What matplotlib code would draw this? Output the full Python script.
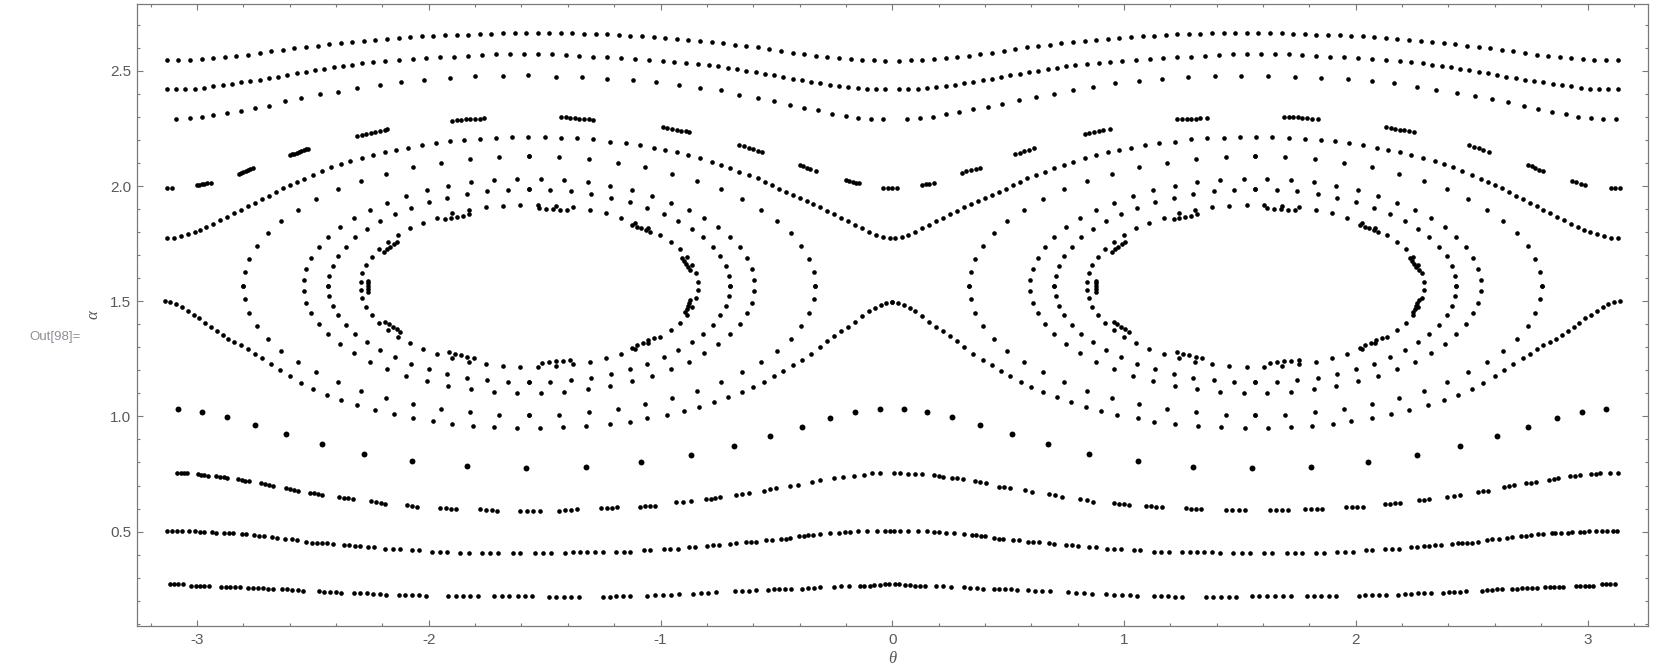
import matplotlib
matplotlib.use('Agg')
import matplotlib.pyplot as plt
from matplotlib.ticker import FixedLocator, FixedFormatter, MultipleLocator
import numpy as np

plt.rcParams['font.family'] = ['Liberation Sans', 'DejaVu Sans']
plt.rcParams['axes.unicode_minus'] = False

# ---- rotational orbits (theta < 0 half, theta > 0 half share alpha) ----
A_THETA_L = [-3.13,-3.08,-3.03,-2.98,-2.93,-2.88,-2.83,-2.78,-2.73,-2.68,-2.63,-2.58,-2.53,-2.48,-2.43,-2.38,-2.33,-2.28,-2.23,-2.18,-2.13,-2.08,-2.03,-1.98,-1.93,-1.88,-1.83,-1.78,-1.73,-1.68,-1.63,-1.58,-1.53,-1.48,-1.43,-1.38,-1.33,-1.28,-1.23,-1.18,-1.13,-1.08,-1.03,-0.98,-0.93,-0.88,-0.83,-0.78,-0.73,-0.68,-0.63,-0.58,-0.53,-0.48,-0.43,-0.38,-0.33,-0.28,-0.23,-0.18,-0.13,-0.08,-0.03]
A_THETA_R = [3.13,3.08,3.03,2.98,2.93,2.88,2.83,2.78,2.73,2.68,2.63,2.58,2.53,2.48,2.43,2.38,2.33,2.28,2.23,2.18,2.13,2.08,2.03,1.98,1.93,1.88,1.83,1.78,1.73,1.68,1.63,1.58,1.53,1.48,1.43,1.38,1.33,1.28,1.23,1.18,1.13,1.08,1.03,0.98,0.93,0.88,0.83,0.78,0.73,0.68,0.63,0.58,0.53,0.48,0.43,0.38,0.33,0.28,0.23,0.18,0.13,0.08,0.03]
A_ALPHA = [2.546,2.547,2.549,2.551,2.554,2.558,2.563,2.570,2.577,2.584,2.591,2.597,2.603,2.609,2.616,2.622,2.626,2.630,2.634,2.638,2.642,2.647,2.650,2.652,2.654,2.656,2.657,2.659,2.661,2.663,2.663,2.663,2.663,2.663,2.663,2.663,2.661,2.660,2.658,2.655,2.652,2.649,2.646,2.641,2.637,2.633,2.629,2.625,2.619,2.613,2.608,2.602,2.593,2.585,2.578,2.571,2.565,2.560,2.556,2.552,2.549,2.546,2.544]

B_THETA_L = [-3.13,-3.09,-3.05,-3.01,-2.97,-2.93,-2.89,-2.85,-2.81,-2.77,
             -2.73,-2.69,-2.65,-2.61,-2.57,-2.53,-2.49,-2.45,-2.41,-2.37,
             -2.33,-2.29,-2.24,-2.19,-2.13,-2.07,-2.01,-1.95,-1.89,-1.83,
             -1.77,-1.71,-1.65,-1.59,-1.53,-1.47,-1.41,-1.35,-1.29,-1.23,
             -1.17,-1.11,-1.05,-0.99,-0.94,-0.89,-0.84,-0.79,-0.75,-0.71,
             -0.67,-0.63,-0.59,-0.55,-0.51,-0.47,-0.43,-0.39,-0.35,-0.31,
             -0.27,-0.23,-0.19,-0.15,-0.11,-0.07,-0.03]
B_THETA_R = [3.13,3.09,3.05,3.01,2.97,2.93,2.89,2.85,2.81,2.77,
             2.73,2.69,2.65,2.61,2.57,2.53,2.49,2.45,2.41,2.37,
             2.33,2.29,2.24,2.19,2.13,2.07,2.01,1.95,1.89,1.83,
             1.77,1.71,1.65,1.59,1.53,1.47,1.41,1.35,1.29,1.23,
             1.17,1.11,1.05,0.99,0.94,0.89,0.84,0.79,0.75,0.71,
             0.67,0.63,0.59,0.55,0.51,0.47,0.43,0.39,0.35,0.31,
             0.27,0.23,0.19,0.15,0.11,0.07,0.03]
B_ALPHA = [2.420,2.420,2.421,2.423,2.427,2.432,2.438,2.444,2.450,2.456,
           2.462,2.468,2.475,2.482,2.489,2.496,2.502,2.509,2.515,2.521,
           2.527,2.533,2.538,2.544,2.549,2.553,2.556,2.559,2.562,2.565,
           2.569,2.571,2.573,2.573,2.573,2.571,2.568,2.565,2.562,2.559,
           2.556,2.552,2.547,2.542,2.537,2.533,2.529,2.524,2.519,2.512,
           2.507,2.500,2.493,2.487,2.480,2.473,2.466,2.459,2.452,2.445,
           2.439,2.433,2.428,2.424,2.421,2.420,2.420]

C_THETA_L = [-3.09,-3.03,-2.98,-2.93,-2.87,-2.81,-2.75,-2.69,-2.62,-2.55,
             -2.47,-2.39,-2.31,-2.21,-2.12,-2.02,-1.91,-1.80,-1.68,-1.57,
             -1.45,-1.34,-1.23,-1.12,-1.02,-0.92,-0.83,-0.74,-0.66,-0.58,
             -0.51,-0.44,-0.38,-0.32,-0.26,-0.20,-0.15,-0.09,-0.04]
C_ALPHA_L = [2.289,2.294,2.298,2.307,2.316,2.324,2.337,2.349,2.368,2.381,
             2.398,2.409,2.424,2.437,2.450,2.459,2.467,2.476,2.476,2.480,
             2.475,2.475,2.466,2.461,2.450,2.440,2.427,2.415,2.396,2.383,
             2.368,2.353,2.340,2.329,2.314,2.305,2.297,2.292,2.289]
C_THETA_R = [0.065,0.121,0.175,0.231,0.287,0.349,0.411,0.475,0.545,0.620,
             0.697,0.781,0.868,0.962,1.063,1.166,1.276,1.392,1.506,1.621,
             1.737,1.851,1.965,2.068,2.166,2.263,2.348,2.435,2.513,2.590,
             2.658,2.724,2.786,2.848,2.906,2.960,3.014,3.068,3.122]
C_ALPHA_R = [2.289,2.294,2.301,2.311,2.320,2.333,2.344,2.357,2.373,2.388,
             2.401,2.418,2.431,2.446,2.456,2.463,2.472,2.476,2.479,2.479,
             2.474,2.470,2.466,2.457,2.446,2.431,2.418,2.405,2.391,2.376,
             2.363,2.346,2.333,2.320,2.311,2.301,2.294,2.289,2.289]

# resonant chain just above the separatrix (short dashes)
D_DOTS = [(-3.13,1.990),(-3.11,1.990),
          (-3.00,2.004),(-2.99,2.006),(-2.98,2.008),(-2.97,2.010),(-2.955,2.012),(-2.94,2.014),
          (-2.82,2.052),(-2.81,2.057),(-2.80,2.062),(-2.79,2.066),(-2.78,2.070),(-2.77,2.074),(-2.76,2.077),
          (-2.60,2.133),(-2.59,2.137),(-2.58,2.141),(-2.57,2.145),(-2.56,2.149),(-2.55,2.153),(-2.54,2.156),(-2.53,2.159),(-2.52,2.161),
          (-2.31,2.218),(-2.29,2.222),(-2.27,2.226),(-2.25,2.231),(-2.23,2.236),(-2.21,2.240),(-2.19,2.244),(-2.18,2.247),
          (-1.90,2.283),(-1.88,2.285),(-1.86,2.287),(-1.84,2.289),(-1.82,2.290),(-1.80,2.291),(-1.78,2.293),(-1.76,2.294),
          (-1.43,2.298),(-1.41,2.298),(-1.39,2.297),(-1.37,2.295),(-1.35,2.293),(-1.33,2.291),(-1.31,2.289),(-1.29,2.286),
          (-0.99,2.256),(-0.97,2.252),(-0.95,2.248),(-0.93,2.244),(-0.91,2.240),(-0.89,2.237),(-0.875,2.234),
          (-0.66,2.178),(-0.64,2.172),(-0.62,2.166),(-0.60,2.160),(-0.58,2.154),(-0.56,2.149),
          (-0.40,2.091),(-0.385,2.085),(-0.37,2.079),(-0.355,2.073),(-0.33,2.066),
          (-0.20,2.026),(-0.185,2.022),(-0.17,2.018),(-0.155,2.014),(-0.145,2.012),
          (-0.04,1.990),(-0.02,1.990),(0.00,1.990),(0.02,1.990),
          (0.13,2.004),(0.145,2.007),(0.16,2.010),(0.18,2.014),
          (0.30,2.058),(0.32,2.063),(0.34,2.068),(0.36,2.073),(0.38,2.077),
          (0.53,2.137),(0.55,2.144),(0.57,2.150),(0.59,2.156),(0.61,2.164),
          (0.83,2.224),(0.85,2.229),(0.87,2.233),(0.89,2.237),(0.91,2.241),(0.94,2.247),
          (1.23,2.289),(1.25,2.290),(1.27,2.291),(1.29,2.292),(1.31,2.293),(1.33,2.294),(1.36,2.296),
          (1.69,2.301),(1.71,2.301),(1.73,2.300),(1.75,2.299),(1.77,2.297),(1.79,2.295),(1.81,2.293),(1.835,2.291),
          (2.13,2.257),(2.15,2.253),(2.17,2.249),(2.19,2.245),(2.21,2.242),(2.23,2.238),(2.25,2.234),
          (2.49,2.178),(2.51,2.171),(2.53,2.164),(2.55,2.157),(2.575,2.147),
          (2.745,2.091),(2.76,2.085),(2.775,2.078),(2.79,2.071),(2.81,2.065),
          (2.935,2.022),(2.95,2.017),(2.97,2.010),(2.99,2.004),
          (3.10,1.990),(3.12,1.990),(3.14,1.990)]

# orbits hugging the separatrix, above and below
E_UP_THETA_L = [-3.13,-3.10,-3.07,-3.04,-3.01,-2.985,-2.96,-2.93,-2.90,-2.87,-2.84,-2.81,-2.78,-2.75,-2.72,-2.69,-2.66,-2.63,-2.60,-2.57,-2.54,-2.50,-2.46,-2.42,-2.38,-2.34,-2.29,-2.24,-2.19,-2.14,-2.09,-2.03,-1.97,-1.91,-1.85,-1.78,-1.71,-1.64,-1.57,-1.50,-1.43,-1.36,-1.29,-1.22,-1.15,-1.09,-1.03,-0.98,-0.93,-0.88,-0.83,-0.78,-0.74,-0.70,-0.66,-0.62,-0.58,-0.55,-0.52,-0.49,-0.46,-0.43,-0.40,-0.37,-0.34,-0.31,-0.28,-0.25,-0.22,-0.19,-0.16,-0.13,-0.10,-0.07,-0.04,-0.01]
E_UP_THETA_R = [3.13,3.10,3.07,3.04,3.01,2.985,2.96,2.93,2.90,2.87,2.84,2.81,2.78,2.75,2.72,2.69,2.66,2.63,2.60,2.57,2.54,2.50,2.46,2.42,2.38,2.34,2.29,2.24,2.19,2.14,2.09,2.03,1.97,1.91,1.85,1.78,1.71,1.64,1.57,1.50,1.43,1.36,1.29,1.22,1.15,1.09,1.03,0.98,0.93,0.88,0.83,0.78,0.74,0.70,0.66,0.62,0.58,0.55,0.52,0.49,0.46,0.43,0.40,0.37,0.34,0.31,0.28,0.25,0.22,0.19,0.16,0.13,0.10,0.07,0.04,0.01]
E_UP_ALPHA = [1.774,1.776,1.782,1.790,1.799,1.809,1.820,1.834,1.851,1.866,1.882,1.897,1.913,1.928,1.943,1.958,1.975,1.990,2.003,2.016,2.029,2.047,2.064,2.081,2.095,2.107,2.121,2.134,2.146,2.157,2.166,2.177,2.187,2.195,2.201,2.205,2.209,2.211,2.211,2.211,2.210,2.207,2.203,2.193,2.185,2.176,2.166,2.156,2.146,2.134,2.120,2.106,2.093,2.079,2.062,2.047,2.033,2.018,2.003,1.989,1.975,1.961,1.949,1.935,1.922,1.908,1.893,1.877,1.862,1.846,1.831,1.816,1.802,1.789,1.779,1.774]

E_LOW_THETA_L = [-3.14,-3.115,-3.09,-3.065,-3.04,-3.015,-2.99,-2.965,-2.94,-2.915,-2.89,-2.865,-2.84,-2.81,-2.78,-2.75,-2.72,-2.68,-2.64,-2.60,-2.55,-2.50,-2.44,-2.38,-2.31,-2.23,-2.15,-2.07,-1.98,-1.90,-1.81,-1.72,-1.62,-1.52,-1.42,-1.32,-1.22,-1.13,-1.06,-0.97,-0.90,-0.835,-0.77,-0.71,-0.65,-0.60,-0.555,-0.51,-0.47,-0.43,-0.39,-0.35,-0.31,-0.28,-0.25,-0.22,-0.19,-0.16,-0.13,-0.10,-0.075,-0.05,-0.025,0.0]
E_LOW_THETA_R = [3.14,3.115,3.09,3.065,3.04,3.015,2.99,2.965,2.94,2.915,2.89,2.865,2.84,2.81,2.78,2.75,2.72,2.68,2.64,2.60,2.55,2.50,2.44,2.38,2.31,2.23,2.15,2.07,1.98,1.90,1.81,1.72,1.62,1.52,1.42,1.32,1.22,1.13,1.06,0.97,0.90,0.835,0.77,0.71,0.65,0.60,0.555,0.51,0.47,0.43,0.39,0.35,0.31,0.28,0.25,0.22,0.19,0.16,0.13,0.10,0.075,0.05,0.025,0.0]
E_LOW_ALPHA = [1.499,1.496,1.486,1.473,1.458,1.442,1.425,1.406,1.389,1.371,1.354,1.338,1.323,1.309,1.293,1.271,1.252,1.229,1.200,1.175,1.146,1.120,1.092,1.072,1.050,1.028,1.010,0.993,0.980,0.967,0.960,0.953,0.950,0.948,0.952,0.958,0.966,0.977,0.992,1.006,1.023,1.042,1.064,1.085,1.107,1.128,1.151,1.175,1.199,1.222,1.246,1.273,1.303,1.326,1.348,1.370,1.390,1.411,1.436,1.457,1.472,1.484,1.494,1.498]

# ---- island ovals: outer / inner flank x-positions, upper / lower alpha ----
O1_X_OUT = [-2.802,-2.795,-2.775,-2.742,-2.695,-2.637,-2.566,-2.485,-2.393,-2.293,-2.185,-2.069,-1.949,-1.824,-1.696,-1.567]
O1_X_IN = [-0.332,-0.339,-0.359,-0.392,-0.439,-0.497,-0.568,-0.649,-0.741,-0.841,-0.949,-1.065,-1.185,-1.310,-1.438,-1.567]
O1_XR_OUT = [2.802,2.795,2.775,2.742,2.695,2.637,2.566,2.485,2.393,2.293,2.185,2.069,1.949,1.824,1.696,1.567]
O1_XR_IN = [0.332,0.339,0.359,0.392,0.439,0.497,0.568,0.649,0.741,0.841,0.949,1.065,1.185,1.310,1.438,1.567]
O1_UP = [1.567,1.626,1.684,1.741,1.796,1.848,1.898,1.943,1.985,2.022,2.054,2.081,2.102,2.117,2.126,2.130]
O1_LOW = [1.567,1.508,1.450,1.393,1.338,1.286,1.236,1.191,1.149,1.112,1.080,1.053,1.032,1.017,1.008,1.005]

O2_X_OUT = [-2.539,-2.528,-2.507,-2.475,-2.434,-2.383,-2.323,-2.255,-2.179,-2.097,-2.009,-1.916,-1.819,-1.719,-1.618]
O2_X_IN = [-0.595,-0.606,-0.627,-0.659,-0.700,-0.751,-0.811,-0.879,-0.955,-1.037,-1.125,-1.218,-1.315,-1.415,-1.516]
O2_XR_OUT = [2.539,2.528,2.507,2.475,2.434,2.383,2.323,2.255,2.179,2.097,2.009,1.916,1.819,1.719,1.618]
O2_XR_IN = [0.595,0.606,0.627,0.659,0.700,0.751,0.811,0.879,0.955,1.037,1.125,1.218,1.315,1.415,1.516]
O2_UP = [1.591,1.640,1.687,1.734,1.778,1.820,1.860,1.896,1.928,1.957,1.981,2.001,2.016,2.026,2.031]
O2_LOW = [1.543,1.494,1.447,1.400,1.356,1.314,1.274,1.238,1.206,1.177,1.153,1.133,1.118,1.108,1.103]

O3_X_OUT = [-2.434,-2.429,-2.415,-2.392,-2.359,-2.318,-2.268,-2.211,-2.147,-2.077,-2.001,-1.920,-1.835,-1.747,-1.658,-1.567]
O3_X_IN = [-0.700,-0.705,-0.719,-0.742,-0.775,-0.816,-0.866,-0.923,-0.987,-1.057,-1.133,-1.214,-1.299,-1.387,-1.476,-1.567]
O3_XR_OUT = [2.434,2.429,2.415,2.392,2.359,2.318,2.268,2.211,2.147,2.077,2.001,1.920,1.835,1.747,1.658,1.567]
O3_XR_IN = [0.700,0.705,0.719,0.742,0.775,0.816,0.866,0.923,0.987,1.057,1.133,1.214,1.299,1.387,1.476,1.567]
O3_UP = [1.567,1.611,1.654,1.696,1.737,1.777,1.813,1.847,1.878,1.906,1.930,1.950,1.966,1.977,1.984,1.986]
O3_LOW = [1.567,1.523,1.480,1.438,1.397,1.357,1.321,1.287,1.256,1.228,1.204,1.184,1.168,1.157,1.150,1.148]

O4_X_OUT = [-2.294,-2.286,-2.270,-2.247,-2.216,-2.178,-2.133,-2.082,-2.025,-1.963,-1.898,-1.828,-1.755,-1.681,-1.605]
O4_X_IN = [-0.840,-0.848,-0.864,-0.887,-0.918,-0.956,-1.001,-1.052,-1.109,-1.171,-1.236,-1.306,-1.379,-1.453,-1.529]
O4_XR_OUT = [2.294,2.286,2.270,2.247,2.216,2.178,2.133,2.082,2.025,1.963,1.898,1.828,1.755,1.681,1.605]
O4_XR_IN = [0.840,0.848,0.864,0.887,0.918,0.956,1.001,1.052,1.109,1.171,1.236,1.306,1.379,1.453,1.529]
O4_UP = [1.585,1.622,1.658,1.693,1.727,1.759,1.789,1.816,1.841,1.862,1.881,1.896,1.907,1.915,1.919]
O4_LOW = [1.549,1.512,1.476,1.441,1.407,1.375,1.345,1.318,1.293,1.272,1.253,1.238,1.227,1.219,1.215]

# inner island chain (dashes)
O5_THETA_L = [-2.262,-2.262,-2.262,-2.262,-2.262,
              -2.195,-2.180,-2.166,-2.151,-2.137,
              -1.928,-1.903,-1.878,-1.853,-1.828,
              -1.526,-1.495,-1.465,-1.434,-1.403,
              -1.123,-1.103,-1.084,-1.064,-1.044,
              -0.907,-0.898,-0.889,-0.880,-0.871,
              -0.893,-0.887,-0.882,-0.876,-0.871,
              -1.123,-1.100,-1.077,-1.053,-1.030,
              -1.511,-1.481,-1.450,-1.420,-1.389,
              -1.914,-1.887,-1.860,-1.833,-1.806,
              -2.187,-2.171,-2.155,-2.138,-2.122]
O5_THETA_R = [0.880,0.880,0.880,0.880,0.880,
              0.947,0.962,0.976,0.991,1.005,
              1.214,1.239,1.264,1.289,1.314,
              1.616,1.647,1.677,1.708,1.739,
              2.019,2.039,2.058,2.078,2.098,
              2.235,2.244,2.253,2.262,2.271,
              2.249,2.255,2.260,2.266,2.271,
              2.019,2.042,2.065,2.089,2.112,
              1.631,1.661,1.692,1.722,1.753,
              1.228,1.255,1.282,1.309,1.336,
              0.955,0.971,0.987,1.004,1.020]
O5_ALPHA = [1.589,1.577,1.565,1.553,1.541,
            1.715,1.726,1.737,1.748,1.758,
            1.855,1.861,1.866,1.872,1.877,
            1.903,1.902,1.900,1.898,1.896,
            1.831,1.824,1.817,1.809,1.802,
            1.686,1.673,1.660,1.648,1.635,
            1.454,1.467,1.480,1.492,1.505,
            1.298,1.309,1.320,1.331,1.342,
            1.233,1.236,1.239,1.242,1.245,
            1.278,1.272,1.265,1.259,1.252,
            1.411,1.400,1.390,1.379,1.368]

# ---- lower rotational orbits ----
F_DOTS = [(-3.082,1.031),(-2.978,1.018),(-2.870,0.996),(-2.748,0.961),(-2.617,0.922),(-2.462,0.879),
          (-2.281,0.837),(-2.072,0.805),(-1.835,0.783),(-1.579,0.775),(-1.321,0.779),(-1.083,0.801),
          (-0.868,0.832),(-0.684,0.872),(-0.526,0.915),(-0.390,0.955),(-0.267,0.992),(-0.160,1.018),
          (-0.055,1.031),(0.051,1.031),(0.152,1.018),(0.258,0.996),(0.378,0.961),(0.515,0.922),
          (0.670,0.879),(0.850,0.838),(1.059,0.805),(1.297,0.782),(1.552,0.775),(1.808,0.779),
          (2.052,0.801),(2.265,0.832),(2.449,0.872),(2.608,0.913),(2.745,0.955),(2.869,0.992),
          (2.977,1.018),(3.080,1.031)]

G_DOTS = [(-3.086,0.753),(-3.071,0.753),(-3.057,0.753),(-3.042,0.753),
          (-2.997,0.749),(-2.983,0.747),(-2.968,0.745),(-2.954,0.743),
          (-2.916,0.740),(-2.901,0.738),(-2.885,0.736),(-2.870,0.734),
          (-2.823,0.728),(-2.808,0.725),(-2.792,0.721),(-2.777,0.718),
          (-2.722,0.710),(-2.706,0.706),(-2.689,0.703),(-2.673,0.699),
          (-2.614,0.688),(-2.598,0.685),(-2.581,0.681),(-2.565,0.678),
          (-2.511,0.669),(-2.494,0.666),(-2.477,0.663),(-2.460,0.660),
          (-2.386,0.649),(-2.367,0.647),(-2.347,0.645),(-2.328,0.643),
          (-2.249,0.632),(-2.228,0.628),(-2.208,0.625),(-2.187,0.621),
          (-2.094,0.614),(-2.072,0.611),(-2.051,0.608),
          (-1.950,0.602),(-1.927,0.601),(-1.904,0.600),(-1.881,0.599),
          (-1.777,0.597),(-1.753,0.595),(-1.729,0.593),(-1.705,0.591),
          (-1.605,0.591),(-1.577,0.591),(-1.549,0.591),(-1.521,0.591),
          (-1.439,0.591),(-1.413,0.593),(-1.386,0.595),(-1.360,0.597),
          (-1.255,0.601),(-1.232,0.602),(-1.210,0.604),(-1.187,0.605),
          (-1.087,0.608),(-1.066,0.610),(-1.044,0.611),(-1.023,0.613),
          (-0.933,0.627),(-0.901,0.630),(-0.868,0.632),
          (-0.804,0.640),(-0.784,0.643),(-0.765,0.646),(-0.745,0.649),
          (-0.673,0.660),(-0.647,0.663),(-0.620,0.666),
          (-0.552,0.678),(-0.527,0.683),(-0.502,0.688),
          (-0.440,0.697),(-0.408,0.704),
          (-0.346,0.716),(-0.311,0.723),
          (-0.253,0.733),(-0.213,0.737),
          (-0.164,0.743),(-0.123,0.746),
          (-0.088,0.753),(-0.055,0.753),
          (0.006,0.753),(0.035,0.753),(0.066,0.752),(0.097,0.750),(0.128,0.749),
          (0.179,0.744),(0.200,0.741),(0.221,0.738),
          (0.258,0.734),(0.281,0.731),(0.304,0.727),
          (0.355,0.720),(0.379,0.715),(0.403,0.710),
          (0.459,0.695),(0.483,0.693),(0.506,0.690),
          (0.572,0.680),(0.604,0.673),
          (0.676,0.662),(0.704,0.657),(0.732,0.651),
          (0.811,0.642),(0.840,0.636),(0.868,0.630),
          (0.955,0.623),(0.977,0.621),(1.000,0.619),(1.022,0.617),
          (1.094,0.612),(1.117,0.610),(1.139,0.607),(1.162,0.605),
          (1.266,0.601),(1.289,0.600),(1.311,0.598),(1.334,0.597),
          (1.441,0.592),(1.467,0.592),(1.494,0.592),(1.520,0.592),
          (1.628,0.592),(1.654,0.592),(1.680,0.592),(1.706,0.592),
          (1.783,0.597),(1.807,0.597),(1.832,0.597),(1.856,0.597),
          (1.959,0.605),(1.983,0.605),(2.007,0.605),(2.031,0.605),
          (2.124,0.620),(2.146,0.621),(2.169,0.622),(2.191,0.623),
          (2.275,0.635),(2.296,0.638),(2.317,0.640),
          (2.394,0.649),(2.423,0.654),(2.451,0.659),
          (2.528,0.671),(2.549,0.675),(2.569,0.678),
          (2.638,0.692),(2.661,0.697),(2.683,0.701),
          (2.735,0.710),(2.756,0.712),(2.777,0.714),
          (2.834,0.725),(2.854,0.728),(2.873,0.731),
          (2.925,0.740),(2.947,0.742),(2.969,0.744),
          (3.014,0.749),(3.035,0.751),(3.055,0.753),
          (3.097,0.753),(3.132,0.755)]

H_THETA_L = [-3.129,-3.108,-3.086,-3.064,-3.036,-3.007,-2.985,-2.968,-2.935,-2.916,
             -2.885,-2.860,-2.845,-2.808,-2.788,-2.755,-2.733,-2.712,-2.676,-2.654,
             -2.619,-2.590,-2.568,-2.529,-2.503,-2.481,-2.460,-2.439,-2.414,-2.367,
             -2.343,-2.317,-2.295,-2.264,-2.238,-2.188,-2.156,-2.125,-2.072,-2.043,
             -1.986,-1.953,-1.921,-1.864,-1.828,-1.770,-1.737,-1.702,-1.638,-1.605,
             -1.543,-1.508,-1.472,-1.413,-1.378,-1.346,-1.317,-1.284,-1.249,-1.192,
             -1.158,-1.130,-1.070,-1.044,-0.987,-0.958,-0.926,-0.879,-0.850,-0.800,
             -0.774,-0.749,-0.699,-0.675,-0.631,-0.608,-0.587,-0.545,-0.519,-0.479,
             -0.459,-0.440,-0.401,-0.382,-0.363,-0.343,-0.310,-0.267,-0.231,-0.202,
             -0.181,-0.149,-0.109,-0.066,-0.033,-0.008]
H_THETA_R = [3.129,3.108,3.086,3.064,3.036,3.007,2.985,2.968,2.935,2.916,
             2.885,2.860,2.845,2.808,2.788,2.755,2.733,2.712,2.676,2.654,
             2.619,2.590,2.568,2.529,2.503,2.481,2.460,2.439,2.414,2.367,
             2.343,2.317,2.295,2.264,2.238,2.188,2.156,2.125,2.072,2.043,
             1.986,1.953,1.921,1.864,1.828,1.770,1.737,1.702,1.638,1.605,
             1.543,1.508,1.472,1.413,1.378,1.346,1.317,1.284,1.249,1.192,
             1.158,1.130,1.070,1.044,0.987,0.958,0.926,0.879,0.850,0.800,
             0.774,0.749,0.699,0.675,0.631,0.608,0.587,0.545,0.519,0.479,
             0.459,0.440,0.401,0.382,0.363,0.343,0.310,0.267,0.231,0.202,
             0.181,0.149,0.109,0.066,0.033,0.008]
H_ALPHA = [.504,.504,.504,.504,.504,.504,.500,.500,.500,.496,
           .496,.493,.493,.489,.489,.485,.481,.481,.475,.471,
           .467,.467,.464,.457,.452,.452,.449,.449,.445,.440,
           .440,.437,.437,.432,.432,.426,.423,.423,.419,.419,
           .413,.413,.413,.409,.409,.409,.406,.406,.406,.406,
           .406,.406,.406,.406,.410,.410,.410,.410,.410,.413,
           .413,.413,.419,.419,.423,.423,.426,.432,.432,.437,
           .440,.440,.445,.449,.454,.454,.457,.462,.465,.469,
           .469,.474,.480,.480,.485,.485,.490,.493,.495,.500,
           .500,.503,.503,.504,.504,.504]

I_THETA_L = [-3.117,-3.098,-3.080,-3.061, -3.025,-3.006,-2.987,-2.968,-2.949,
             -2.896,-2.876,-2.856,-2.836,-2.816, -2.781,-2.759,-2.737,-2.716,-2.694,-2.672,
             -2.633,-2.611,-2.589,-2.566,-2.544, -2.475,-2.451,-2.426,-2.402,-2.377,
             -2.324,-2.296,-2.268,-2.240,-2.212,-2.184, -2.130,-2.101,-2.071,-2.042,-2.012,
             -1.915,-1.883,-1.852,-1.820,-1.788, -1.720,-1.686,-1.652,-1.617,-1.583,-1.554,
             -1.483,-1.451,-1.418,-1.386,-1.353, -1.250,-1.220,-1.190,-1.160,-1.130,
             -1.058,-1.024,-0.990,-0.955,-0.921, -0.861,-0.827,-0.794,-0.760,
             -0.679,-0.648,-0.618,-0.587, -0.537,-0.512,-0.487,-0.462,-0.437,
             -0.390,-0.364,-0.337,-0.311, -0.253,-0.221,-0.188,
             -0.141,-0.120,-0.098,-0.077,-0.055, -0.031,-0.012]
I_THETA_R = [3.117,3.098,3.080,3.061, 3.025,3.006,2.987,2.968,2.949,
             2.896,2.876,2.856,2.836,2.816, 2.781,2.759,2.737,2.716,2.694,2.672,
             2.633,2.611,2.589,2.566,2.544, 2.475,2.451,2.426,2.402,2.377,
             2.324,2.296,2.268,2.240,2.212,2.184, 2.130,2.101,2.071,2.042,2.012,
             1.915,1.883,1.852,1.820,1.788, 1.720,1.686,1.652,1.617,1.583,1.554,
             1.483,1.451,1.418,1.386,1.353, 1.250,1.220,1.190,1.160,1.130,
             1.058,1.024,0.990,0.955,0.921, 0.861,0.827,0.794,0.760,
             0.679,0.648,0.618,0.587, 0.537,0.512,0.487,0.462,0.437,
             0.390,0.364,0.337,0.311, 0.253,0.221,0.188,
             0.141,0.120,0.098,0.077,0.055, 0.031,0.012]
I_ALPHA = [.272,.272,.272,.272, .265,.265,.265,.265,.265,
           .261,.261,.261,.261,.261, .256,.256,.255,.254,.253,.252,
           .250,.249,.247,.246,.244, .241,.240,.238,.237,.235,
           .232,.232,.232,.231,.228,.226, .226,.225,.224,.223,.222,
           .219,.219,.219,.219,.219, .219,.219,.219,.219,.219,.219,
           .218,.218,.218,.218,.218, .218,.218,.220,.221,.222,
           .222,.223,.225,.226,.228, .231,.233,.235,.237,
           .241,.242,.244,.245, .248,.249,.250,.251,.252,
           .252,.254,.256,.258, .261,.263,.265,
           .265,.266,.266,.267,.268, .271,.271]

X_TICKS = [-3, -2, -1, 0, 1, 2, 3]
X_LABELS = ['-3', '-2', '-1', '0', '1', '2', '3']
Y_TICKS = [0.5, 1.0, 1.5, 2.0, 2.5]
Y_LABELS = ['0.5', '1.0', '1.5', '2.0', '2.5']

W, H = 1657, 670
fig = plt.figure(figsize=(W / 100, H / 100), dpi=100)
ax = fig.add_axes([137 / W, 1 - 625.6 / H, (1648 - 137) / W, (625.6 - 4) / H])

DOT = 11


def dots(t, a, size=DOT):
    pts = np.array(list(zip(t, a)), dtype=float)
    ax.scatter(pts[:, 0], pts[:, 1], s=size, c='black', linewidths=0)


for th in (A_THETA_L, A_THETA_R):
    dots(th, A_ALPHA)
for th in (B_THETA_L, B_THETA_R):
    dots(th, B_ALPHA)
dots(C_THETA_L, C_ALPHA_L)
dots(C_THETA_R, C_ALPHA_R)
dots(*zip(*D_DOTS))
for th in (E_UP_THETA_L, E_UP_THETA_R):
    dots(th, E_UP_ALPHA)
for th in (E_LOW_THETA_L, E_LOW_THETA_R):
    dots(th, E_LOW_ALPHA)

ovals = [(O1_X_OUT, O1_X_IN, O1_XR_OUT, O1_XR_IN, O1_UP, O1_LOW),
         (O2_X_OUT, O2_X_IN, O2_XR_OUT, O2_XR_IN, O2_UP, O2_LOW),
         (O3_X_OUT, O3_X_IN, O3_XR_OUT, O3_XR_IN, O3_UP, O3_LOW),
         (O4_X_OUT, O4_X_IN, O4_XR_OUT, O4_XR_IN, O4_UP, O4_LOW)]
for xs in ovals:
    for x in xs[:4]:
        dots(x, xs[4])
        dots(x, xs[5])
dots(O5_THETA_L, O5_ALPHA)
dots(O5_THETA_R, O5_ALPHA)

dots(*zip(*F_DOTS), size=18)
dots(*zip(*G_DOTS))
for th in (H_THETA_L, H_THETA_R):
    dots(th, H_ALPHA)
for th in (I_THETA_L, I_THETA_R):
    dots(th, I_ALPHA)

ax.set_xlim(-3.259, 3.261)
ax.set_ylim(0.092, 2.790)

frame = '#7a7a7a'
for sp in ax.spines.values():
    sp.set_color(frame)
    sp.set_linewidth(0.9)
ax.xaxis.set_major_locator(FixedLocator(X_TICKS))
ax.xaxis.set_major_formatter(FixedFormatter(X_LABELS))
ax.yaxis.set_major_locator(FixedLocator(Y_TICKS))
ax.yaxis.set_major_formatter(FixedFormatter(Y_LABELS))
ax.xaxis.set_minor_locator(MultipleLocator(0.2))
ax.yaxis.set_minor_locator(MultipleLocator(0.1))
ax.tick_params(which='both', direction='in', top=True, right=True,
               color=frame, width=0.8, labelcolor='#5a5a5a', labelsize=11)
ax.tick_params(which='major', length=4.5)
ax.tick_params(which='minor', length=2.5)
ax.tick_params(axis='x', pad=5)
ax.tick_params(axis='y', pad=4)

ax.set_xlabel('θ', family=['Liberation Serif', 'DejaVu Serif'], style='italic',
              fontsize=12, color='#5a5a5a', labelpad=3)
ax.set_ylabel('α', family=['Liberation Serif', 'DejaVu Serif'], style='italic',
              fontsize=12, color='#5a5a5a', labelpad=6)

fig.text(29 / W, 1 - 337 / H, 'Out[98]=', ha='left', va='center',
         fontsize=9.5, color='#948c9a')

fig.savefig('out.png', dpi=100)
